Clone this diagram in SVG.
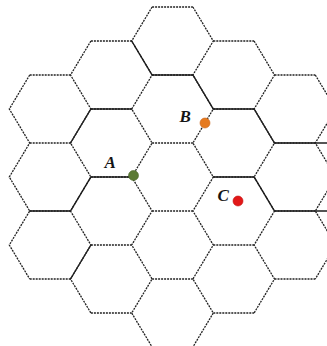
<svg xmlns="http://www.w3.org/2000/svg" width="327" height="346" viewBox="0 0 327 346">
<style>
.dash{fill:none;stroke:#222;stroke-width:1.3;stroke-dasharray:2 1;}
.solid{fill:none;stroke:#1e1e1e;stroke-width:1.4;stroke-linecap:round;}
.lbl{font-family:"Liberation Serif",serif;font-style:italic;font-weight:bold;font-size:17px;fill:#151515;}
</style>
<rect width="327" height="346" fill="#fff"/>
<g id="grid">
<path class="dash" d="M29.7,75H70.5M29.7,143H70.5M29.7,211H70.5M29.7,279H70.5"/>
<path class="dash" d="M90.9,41H131.7M90.9,109H131.7M90.9,177H131.7M90.9,245H131.7M90.9,313H131.7"/>
<path class="dash" d="M152.1,7H192.9M152.1,75H192.9M152.1,143H192.9M152.1,211H192.9M152.1,279H192.9M152.1,347H192.9"/>
<path class="dash" d="M213.3,41H254.1M213.3,109H254.1M213.3,177H254.1M213.3,245H254.1M213.3,313H254.1"/>
<path class="dash" d="M274.5,75H315.3M274.5,143H315.3M274.5,211H315.3M274.5,279H315.3"/>
<polyline class="dash" points="29.7,75 9.3,109 29.7,143 9.3,177 29.7,211 9.3,245 29.7,279"/>
<polyline class="dash" points="90.9,41 70.5,75 90.9,109 70.5,143 90.9,177 70.5,211 90.9,245 70.5,279 90.9,313"/>
<polyline class="dash" points="152.1,7 131.7,41 152.1,75 131.7,109 152.1,143 131.7,177 152.1,211 131.7,245 152.1,279 131.7,313 152.1,347"/>
<polyline class="dash" points="192.9,7 213.3,41 192.9,75 213.3,109 192.9,143 213.3,177 192.9,211 213.3,245 192.9,279 213.3,313 192.9,347"/>
<polyline class="dash" points="254.1,41 274.5,75 254.1,109 274.5,143 254.1,177 274.5,211 254.1,245 274.5,279 254.1,313"/>
<polyline class="dash" points="315.3,75 335.7,109 315.3,143 335.7,177 315.3,211 335.7,245 315.3,279"/>
</g>
<g id="boundaries">
<polyline class="solid" points="131.7,41 152.1,75 192.9,75 213.3,109 254.1,109 274.5,143 315.3,143 327,143"/>
<polyline class="solid" points="70.5,143 90.9,109 131.7,109"/>
<polyline class="solid" points="29.7,211 70.5,211 90.9,177 131.7,177"/>
<polyline class="solid" points="90.9,245 70.5,279"/>
<polyline class="solid" points="213.3,177 254.1,177 274.5,211 315.3,211 327,211"/>
</g>
<g id="A">
<circle cx="133.5" cy="175.5" r="5" fill="#5b7a34" stroke="#4a6428" stroke-width="0.6"/>
<text class="lbl" x="104.5" y="167.5">A</text>
</g>
<g id="B">
<circle cx="205" cy="123" r="5" fill="#e57a20" stroke="#c9651a" stroke-width="0.6"/>
<text class="lbl" x="179.5" y="122">B</text>
</g>
<g id="C">
<circle cx="238" cy="201" r="5" fill="#e21818" stroke="#c41010" stroke-width="0.6"/>
<text class="lbl" x="217.5" y="201">C</text>
</g>
</svg>
